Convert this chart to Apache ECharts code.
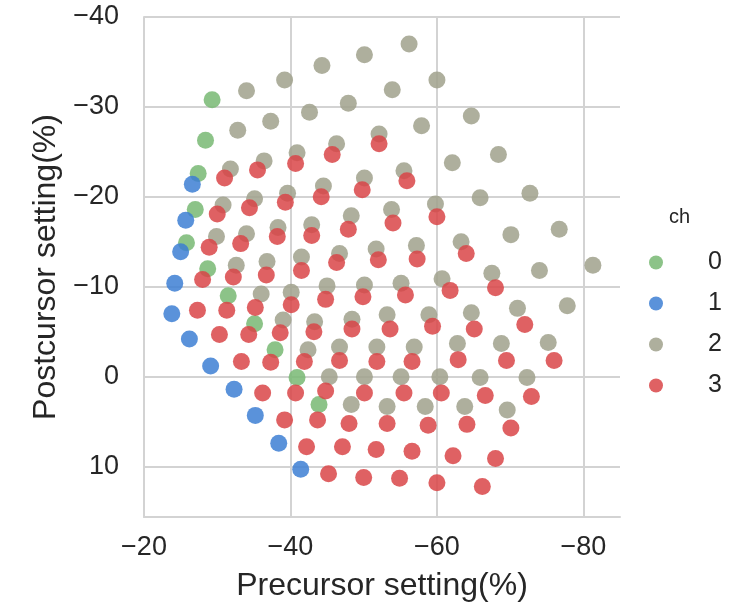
<!DOCTYPE html>
<html>
<head>
<meta charset="utf-8">
<script src="https://cdn.jsdelivr.net/npm/echarts@6/dist/echarts.min.js"></script>
<style>
  html, body { margin: 0; padding: 0; background: #fff; }
  #chart { width: 740px; height: 607px; }
</style>
</head>
<body>
<div id="chart"></div>
<script>
// channel names and colours
var channels = ["0", "1", "2", "3"]
var colors = ["#78b873", "#3d7fd4", "#a0a18c", "#d94548"]

// [precursor %, postcursor %] per channel
var ch0Points = [
  [-29.3,-30.8],[-28.4,-26.3],[-27.4,-22.6],[-27.0,-18.6],[-25.8,-14.9],[-28.7,-12.0],
  [-31.5,-9.0],[-35.1,-5.9],[-37.9,-3.0],[-40.9,0.1],[-43.9,3.1]
]
var ch1Points = [
  [-26.6,-21.4],[-25.7,-17.4],[-25.0,-13.9],[-24.2,-10.4],[-23.8,-7.0],[-26.2,-4.2],
  [-29.1,-1.2],[-32.3,1.4],[-35.2,4.3],[-38.4,7.4],[-41.4,10.3]
]
var ch2Points = [
  [-56.2,-37.0],[-50.1,-35.8],[-44.3,-34.6],[-39.2,-33.0],[-34.0,-31.8],
  [-60.0,-33.0],[-53.9,-31.9],[-47.9,-30.4],[-42.6,-29.4],[-37.3,-28.4],[-32.8,-27.4],
  [-64.7,-29.0],[-57.9,-27.9],[-52.1,-27.0],[-46.3,-25.9],[-40.9,-24.9],[-36.4,-24.0],[-31.8,-23.1],
  [-68.4,-24.7],[-62.1,-23.8],[-55.5,-22.9],[-50.1,-22.1],[-44.5,-21.2],[-39.6,-20.4],[-35.1,-19.8],[-30.8,-19.1],
  [-72.7,-20.4],[-65.9,-19.9],[-59.8,-19.2],[-53.8,-18.6],[-48.3,-17.9],[-42.9,-16.9],[-38.3,-16.6],[-34.0,-15.9],[-29.9,-15.6],
  [-76.7,-16.4],[-70.1,-15.8],[-63.3,-15.0],[-57.2,-14.6],[-51.7,-14.2],[-46.7,-13.7],[-41.5,-13.3],[-36.8,-12.8],[-32.6,-12.4],
  [-81.3,-12.4],[-74.0,-11.8],[-67.5,-11.5],[-60.7,-10.9],[-55.1,-10.4],[-50.1,-10.2],[-45.0,-10.1],[-40.1,-9.4],[-36.0,-9.2],
  [-77.8,-7.9],[-71.0,-7.6],[-64.7,-7.1],[-58.9,-6.9],[-53.2,-6.9],[-48.4,-6.4],[-43.3,-6.1],[-39.0,-6.3],
  [-75.2,-3.8],[-68.8,-3.7],[-62.8,-3.7],[-56.9,-3.3],[-51.8,-3.3],[-46.7,-3.3],[-42.4,-3.0],
  [-72.3,0.1],[-65.9,0.1],[-60.4,0.0],[-55.1,0.0],[-50.1,0.0],[-45.3,0.0],
  [-69.6,3.7],[-63.8,3.3],[-58.4,3.3],[-53.2,3.3],[-48.3,3.1]
]
var ch3Points = [
  [-31.0,-22.1],[-35.5,-23.0],[-40.7,-23.7],[-45.7,-24.7],[-52.1,-25.9],
  [-30.0,-18.1],[-34.4,-18.8],[-39.3,-19.4],[-44.2,-20.0],[-49.8,-20.8],[-55.9,-21.8],
  [-28.9,-14.4],[-33.2,-14.8],[-38.2,-15.6],[-42.9,-15.7],[-47.9,-16.4],[-54.0,-17.1],[-60.0,-17.8],
  [-28.0,-10.8],[-32.2,-11.1],[-36.7,-11.3],[-41.5,-11.8],[-46.3,-12.7],[-52.0,-13.0],[-57.3,-13.1],[-64.0,-13.7],
  [-27.3,-7.4],[-31.3,-7.4],[-35.2,-7.7],[-40.1,-8.0],[-44.8,-8.6],[-49.9,-8.9],[-55.7,-9.1],[-61.8,-9.6],[-68.0,-9.9],
  [-30.3,-4.7],[-34.3,-4.7],[-38.6,-4.9],[-43.2,-5.0],[-48.4,-5.3],[-53.6,-5.3],[-59.4,-5.6],[-65.1,-5.3],[-72.0,-5.8],
  [-33.3,-1.7],[-37.3,-1.6],[-41.9,-1.7],[-46.7,-1.8],[-51.8,-1.7],[-56.6,-1.7],[-62.9,-1.9],[-69.5,-1.8],[-76.0,-1.8],
  [-36.2,1.8],[-40.7,1.8],[-44.8,1.6],[-50.1,1.8],[-55.5,1.8],[-60.6,1.8],[-66.6,2.1],[-72.9,2.2],
  [-39.2,4.8],[-43.7,4.8],[-48.0,5.2],[-53.2,5.2],[-58.8,5.4],[-64.1,5.3],[-70.1,5.7],
  [-42.2,7.8],[-47.1,7.8],[-51.7,8.1],[-56.6,8.3],[-62.2,8.8],[-68.0,9.1],
  [-45.2,10.8],[-50.0,11.2],[-54.9,11.3],[-60.0,11.8],[-66.2,12.2]
]
var allPoints = [ch0Points, ch1Points, ch2Points, ch3Points]

var xTicks = [-20, -40, -60, -80]
var yTicks = [-40, -30, -20, -10, 0, 10]

var textColor = "#262626"
var gridColor = "#d3d3d3"
var font = "Liberation Sans, Arial, sans-serif"

function minus(v){
  return String(v).replace("-", "\u2212")
}

var chart = echarts.init(document.getElementById("chart"))

var option = {
  animation: false,
  textStyle: { fontFamily: font },
  grid: { left: 144, top: 17, width: 476, height: 500 },
  title: {
    text: "ch",
    left: 664, top: 202,
    textStyle: { fontSize: 20, fontWeight: "normal", color: textColor, fontFamily: font }
  },
  legend: {
    orient: "vertical",
    left: 644, top: 245,
    itemWidth: 14, itemHeight: 14, itemGap: 16,
    icon: "circle",
    data: channels,
    textStyle: { fontSize: 25, color: textColor, padding: [0, 0, 0, 40] }
  },
  xAxis: {
    type: "value",
    inverse: true,
    min: -85, max: -20,
    splitNumber: 3,
    name: "Precursor setting(%)",
    nameLocation: "middle",
    nameGap: 53,
    nameTextStyle: { fontSize: 32, color: textColor },
    axisLine: { onZero: false, lineStyle: { color: gridColor, width: 2 } },
    axisTick: { show: false },
    axisLabel: {
      fontSize: 27, color: textColor, margin: 17,
      formatter: function(v){ return xTicks.indexOf(v) >= 0 ? minus(v) : "" }
    },
    splitLine: { showMinLine: false, lineStyle: { color: gridColor, width: 2 } }
  },
  yAxis: {
    type: "value",
    inverse: true,
    min: -40, max: 15.6,
    interval: 10,
    name: "Postcursor setting(%)",
    nameLocation: "middle",
    nameGap: 82,
    nameTextStyle: { fontSize: 32, color: textColor },
    axisLine: { show: true, onZero: false, lineStyle: { color: gridColor, width: 2 } },
    axisTick: { show: false },
    axisLabel: {
      fontSize: 27, color: textColor, margin: 25,
      formatter: function(v){ return yTicks.indexOf(v) >= 0 ? minus(v) : "" }
    },
    splitLine: { showMaxLine: false, lineStyle: { color: gridColor, width: 2 } }
  },
  series: channels.map(function(name, i){
    return {
      name: name,
      type: "scatter",
      symbolSize: 17,
      itemStyle: { color: colors[i], opacity: 0.85 },
      data: allPoints[i]
    }
  })
}
chart.setOption(option)
</script>
</body>
</html>
